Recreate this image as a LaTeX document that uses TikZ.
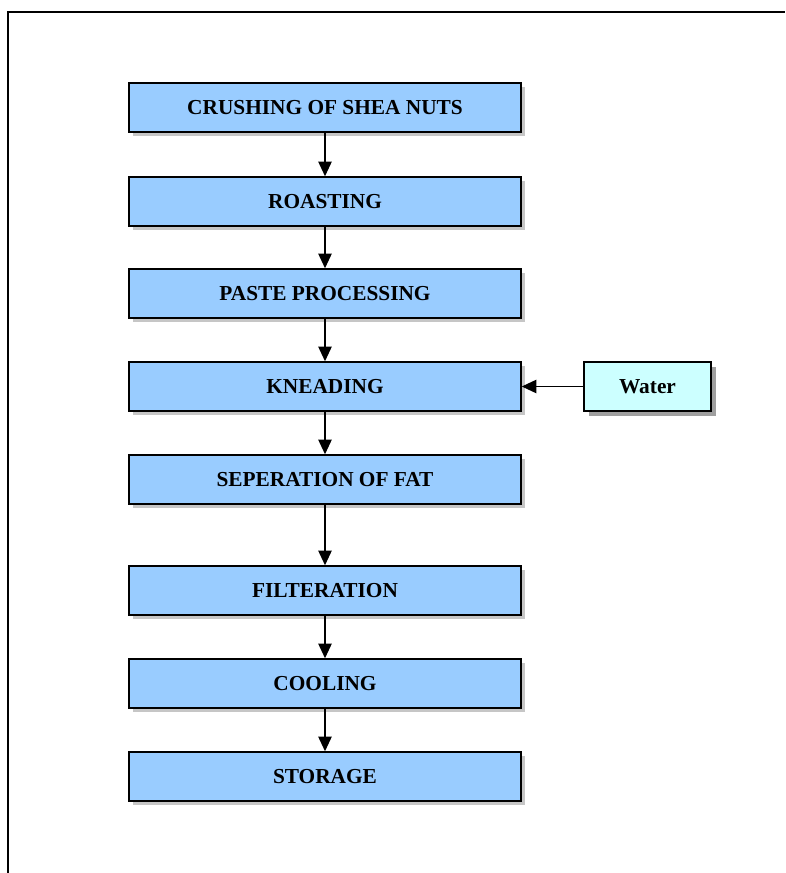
\documentclass[tikz,border=0pt]{standalone}
\usepackage{fontspec}
\setmainfont{Liberation Serif}
\usetikzlibrary{shadows, arrows.meta}

\begin{document}
\begin{tikzpicture}[x=0.75pt,y=0.75pt,yscale=-1,xscale=1,
    stage/.style={draw, line width=1.1pt, fill={rgb,255:red,153; green,204; blue,255},
      minimum width=294pt, minimum height=36.75pt, inner sep=0pt,
      font=\fontsize{16}{18}\selectfont\bfseries,
      drop shadow={shadow xshift=3pt, shadow yshift=-3pt, fill=gray!45, opacity=1}},
    input/.style={draw, line width=1.1pt, fill={rgb,255:red,204; green,255; blue,255},
      minimum width=95.25pt, minimum height=36.75pt, inner sep=0pt,
      font=\fontsize{16}{18}\selectfont\bfseries,
      drop shadow={shadow xshift=4pt, shadow yshift=-4pt, fill=gray!75, opacity=1}},
    flow/.style={-{Triangle[length=11pt,width=10pt]}, line width=1.2pt}]
\useasboundingbox (0,0) rectangle (785,873);
%Frame
\draw [line width=1.3pt]  (8,873) -- (8,12) -- (785,12) ;
%Process stages
\node [stage] (crush)  at (325,107.5) {CRUSHING OF SHEA NUTS};
\node [stage] (roast)  at (325,201.5) {ROASTING};
\node [stage] (paste)  at (325,293.5) {PASTE PROCESSING};
\node [stage] (knead)  at (325,386.5) {KNEADING};
\node [stage] (sep)    at (325,479.5) {SEPERATION OF FAT};
\node [stage] (filter) at (325,590.5) {FILTERATION};
\node [stage] (cool)   at (325,683.5) {COOLING};
\node [stage] (store)  at (325,776.5) {STORAGE};
%Water added
\node [input] (water)  at (647.5,386.5) {Water};
%Arrows
\draw [flow] (crush) -- (roast) ;
\draw [flow] (roast) -- (paste) ;
\draw [flow] (paste) -- (knead) ;
\draw [flow] (knead) -- (sep) ;
\draw [flow] (sep) -- (filter) ;
\draw [flow] (filter) -- (cool) ;
\draw [flow] (cool) -- (store) ;
\draw [flow] (water) -- (knead) ;
\end{tikzpicture}
\end{document}
